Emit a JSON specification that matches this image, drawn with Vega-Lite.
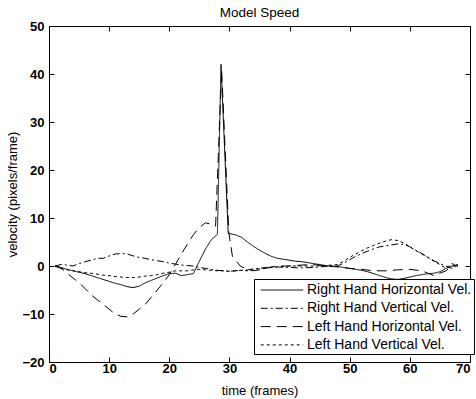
{
  "$schema": "https://vega.github.io/schema/vega-lite/v6.json",
  "width": 421,
  "height": 336,
  "autosize": "none",
  "padding": {"left": 49, "top": 26, "right": 6, "bottom": 37},
  "background": "white",
  "title": {"text": "Model Speed", "fontSize": 13.5, "font": "Liberation Sans", "fontWeight": "normal", "color": "black", "offset": 1},
  "config": {
    "view": {"stroke": "black", "strokeWidth": 1},
    "axis": {"labelFont": "Liberation Sans", "titleFont": "Liberation Sans", "labelColor": "black", "titleColor": "black", "domain": false, "grid": false, "tickColor": "black", "labelFontSize": 13, "labelFontWeight": "bold", "titleFontSize": 13, "titleFontWeight": "normal"}
  },
  "data": {"values": [
    {"f":1,"v":0,"s":"Right Hand Horizontal Vel."},{"f":2,"v":-0.3,"s":"Right Hand Horizontal Vel."},{"f":3,"v":-0.7,"s":"Right Hand Horizontal Vel."},{"f":4,"v":-1,"s":"Right Hand Horizontal Vel."},{"f":5,"v":-1.3,"s":"Right Hand Horizontal Vel."},{"f":6,"v":-1.6,"s":"Right Hand Horizontal Vel."},{"f":7,"v":-2,"s":"Right Hand Horizontal Vel."},{"f":8,"v":-2.4,"s":"Right Hand Horizontal Vel."},{"f":9,"v":-2.8,"s":"Right Hand Horizontal Vel."},{"f":10,"v":-3.2,"s":"Right Hand Horizontal Vel."},{"f":11,"v":-3.6,"s":"Right Hand Horizontal Vel."},{"f":12,"v":-3.9,"s":"Right Hand Horizontal Vel."},{"f":13,"v":-4.3,"s":"Right Hand Horizontal Vel."},{"f":14,"v":-4.5,"s":"Right Hand Horizontal Vel."},{"f":15,"v":-4.2,"s":"Right Hand Horizontal Vel."},{"f":16,"v":-3.5,"s":"Right Hand Horizontal Vel."},{"f":17,"v":-3,"s":"Right Hand Horizontal Vel."},{"f":18,"v":-2.5,"s":"Right Hand Horizontal Vel."},{"f":19,"v":-2,"s":"Right Hand Horizontal Vel."},{"f":20,"v":-1.6,"s":"Right Hand Horizontal Vel."},{"f":21,"v":-1.5,"s":"Right Hand Horizontal Vel."},{"f":22,"v":-2,"s":"Right Hand Horizontal Vel."},{"f":23,"v":-1.8,"s":"Right Hand Horizontal Vel."},{"f":24,"v":-1.6,"s":"Right Hand Horizontal Vel."},{"f":25,"v":1,"s":"Right Hand Horizontal Vel."},{"f":26,"v":3.5,"s":"Right Hand Horizontal Vel."},{"f":27,"v":5.5,"s":"Right Hand Horizontal Vel."},{"f":28,"v":6.6,"s":"Right Hand Horizontal Vel."},{"f":28.6,"v":42,"s":"Right Hand Horizontal Vel."},{"f":29.8,"v":6.8,"s":"Right Hand Horizontal Vel."},{"f":31,"v":6.5,"s":"Right Hand Horizontal Vel."},{"f":32,"v":6,"s":"Right Hand Horizontal Vel."},{"f":33,"v":5,"s":"Right Hand Horizontal Vel."},{"f":34,"v":4.1,"s":"Right Hand Horizontal Vel."},{"f":35,"v":3.3,"s":"Right Hand Horizontal Vel."},{"f":36,"v":2.6,"s":"Right Hand Horizontal Vel."},{"f":37,"v":2,"s":"Right Hand Horizontal Vel."},{"f":38,"v":1.6,"s":"Right Hand Horizontal Vel."},{"f":39,"v":1.4,"s":"Right Hand Horizontal Vel."},{"f":40,"v":1.2,"s":"Right Hand Horizontal Vel."},{"f":41,"v":1,"s":"Right Hand Horizontal Vel."},{"f":42,"v":0.9,"s":"Right Hand Horizontal Vel."},{"f":43,"v":0.7,"s":"Right Hand Horizontal Vel."},{"f":44,"v":0.5,"s":"Right Hand Horizontal Vel."},{"f":45,"v":0.3,"s":"Right Hand Horizontal Vel."},{"f":46,"v":0.1,"s":"Right Hand Horizontal Vel."},{"f":47,"v":0,"s":"Right Hand Horizontal Vel."},{"f":48,"v":-0.1,"s":"Right Hand Horizontal Vel."},{"f":49,"v":-0.3,"s":"Right Hand Horizontal Vel."},{"f":50,"v":-0.5,"s":"Right Hand Horizontal Vel."},{"f":51,"v":-0.7,"s":"Right Hand Horizontal Vel."},{"f":52,"v":-0.9,"s":"Right Hand Horizontal Vel."},{"f":53,"v":-1.2,"s":"Right Hand Horizontal Vel."},{"f":54,"v":-1.6,"s":"Right Hand Horizontal Vel."},{"f":55,"v":-2,"s":"Right Hand Horizontal Vel."},{"f":56,"v":-2.4,"s":"Right Hand Horizontal Vel."},{"f":57,"v":-2.7,"s":"Right Hand Horizontal Vel."},{"f":58,"v":-2.8,"s":"Right Hand Horizontal Vel."},{"f":59,"v":-2.6,"s":"Right Hand Horizontal Vel."},{"f":60,"v":-2.3,"s":"Right Hand Horizontal Vel."},{"f":61,"v":-2,"s":"Right Hand Horizontal Vel."},{"f":62,"v":-1.8,"s":"Right Hand Horizontal Vel."},{"f":63,"v":-1.6,"s":"Right Hand Horizontal Vel."},{"f":64,"v":-1.5,"s":"Right Hand Horizontal Vel."},{"f":65,"v":-1.2,"s":"Right Hand Horizontal Vel."},{"f":66,"v":-0.5,"s":"Right Hand Horizontal Vel."},{"f":67,"v":0,"s":"Right Hand Horizontal Vel."},{"f":68,"v":0,"s":"Right Hand Horizontal Vel."},

    {"f":1,"v":0,"s":"Right Hand Vertical Vel."},{"f":2,"v":0.3,"s":"Right Hand Vertical Vel."},{"f":3,"v":0.2,"s":"Right Hand Vertical Vel."},{"f":4,"v":0,"s":"Right Hand Vertical Vel."},{"f":5,"v":0.5,"s":"Right Hand Vertical Vel."},{"f":6,"v":0.9,"s":"Right Hand Vertical Vel."},{"f":7,"v":1.2,"s":"Right Hand Vertical Vel."},{"f":8,"v":1.6,"s":"Right Hand Vertical Vel."},{"f":9,"v":1.6,"s":"Right Hand Vertical Vel."},{"f":10,"v":2.1,"s":"Right Hand Vertical Vel."},{"f":11,"v":2.5,"s":"Right Hand Vertical Vel."},{"f":12,"v":2.6,"s":"Right Hand Vertical Vel."},{"f":13,"v":2.5,"s":"Right Hand Vertical Vel."},{"f":14,"v":2.1,"s":"Right Hand Vertical Vel."},{"f":15,"v":1.8,"s":"Right Hand Vertical Vel."},{"f":16,"v":1.6,"s":"Right Hand Vertical Vel."},{"f":17,"v":1.3,"s":"Right Hand Vertical Vel."},{"f":18,"v":1.1,"s":"Right Hand Vertical Vel."},{"f":19,"v":0.9,"s":"Right Hand Vertical Vel."},{"f":20,"v":0.6,"s":"Right Hand Vertical Vel."},{"f":21,"v":0.4,"s":"Right Hand Vertical Vel."},{"f":22,"v":0.2,"s":"Right Hand Vertical Vel."},{"f":23,"v":0.1,"s":"Right Hand Vertical Vel."},{"f":24,"v":0,"s":"Right Hand Vertical Vel."},{"f":25,"v":-0.3,"s":"Right Hand Vertical Vel."},{"f":26,"v":-0.5,"s":"Right Hand Vertical Vel."},{"f":27,"v":-0.7,"s":"Right Hand Vertical Vel."},{"f":28,"v":-0.9,"s":"Right Hand Vertical Vel."},{"f":29,"v":-1,"s":"Right Hand Vertical Vel."},{"f":30,"v":-1.1,"s":"Right Hand Vertical Vel."},{"f":31,"v":-1,"s":"Right Hand Vertical Vel."},{"f":32,"v":-0.9,"s":"Right Hand Vertical Vel."},{"f":33,"v":-0.8,"s":"Right Hand Vertical Vel."},{"f":34,"v":-0.6,"s":"Right Hand Vertical Vel."},{"f":35,"v":-0.5,"s":"Right Hand Vertical Vel."},{"f":36,"v":-0.3,"s":"Right Hand Vertical Vel."},{"f":38,"v":-0.2,"s":"Right Hand Vertical Vel."},{"f":40,"v":-0.3,"s":"Right Hand Vertical Vel."},{"f":42,"v":-0.4,"s":"Right Hand Vertical Vel."},{"f":44,"v":-0.3,"s":"Right Hand Vertical Vel."},{"f":46,"v":-0.1,"s":"Right Hand Vertical Vel."},{"f":48,"v":0,"s":"Right Hand Vertical Vel."},{"f":49,"v":0.6,"s":"Right Hand Vertical Vel."},{"f":50,"v":1.3,"s":"Right Hand Vertical Vel."},{"f":51,"v":2,"s":"Right Hand Vertical Vel."},{"f":52,"v":2.6,"s":"Right Hand Vertical Vel."},{"f":53,"v":3.1,"s":"Right Hand Vertical Vel."},{"f":54,"v":3.6,"s":"Right Hand Vertical Vel."},{"f":55,"v":4,"s":"Right Hand Vertical Vel."},{"f":56,"v":4.2,"s":"Right Hand Vertical Vel."},{"f":57,"v":4.4,"s":"Right Hand Vertical Vel."},{"f":58,"v":4.6,"s":"Right Hand Vertical Vel."},{"f":59,"v":4.5,"s":"Right Hand Vertical Vel."},{"f":60,"v":4,"s":"Right Hand Vertical Vel."},{"f":61,"v":3.3,"s":"Right Hand Vertical Vel."},{"f":62,"v":2.6,"s":"Right Hand Vertical Vel."},{"f":63,"v":1.8,"s":"Right Hand Vertical Vel."},{"f":64,"v":1.1,"s":"Right Hand Vertical Vel."},{"f":65,"v":0.5,"s":"Right Hand Vertical Vel."},{"f":66,"v":0,"s":"Right Hand Vertical Vel."},{"f":67,"v":-0.5,"s":"Right Hand Vertical Vel."},{"f":68,"v":0.3,"s":"Right Hand Vertical Vel."},

    {"f":1,"v":0,"s":"Left Hand Horizontal Vel."},{"f":2,"v":-0.5,"s":"Left Hand Horizontal Vel."},{"f":3,"v":-1.5,"s":"Left Hand Horizontal Vel."},{"f":4,"v":-2.5,"s":"Left Hand Horizontal Vel."},{"f":5,"v":-3.5,"s":"Left Hand Horizontal Vel."},{"f":6,"v":-4.7,"s":"Left Hand Horizontal Vel."},{"f":7,"v":-6,"s":"Left Hand Horizontal Vel."},{"f":8,"v":-7,"s":"Left Hand Horizontal Vel."},{"f":9,"v":-8,"s":"Left Hand Horizontal Vel."},{"f":10,"v":-9,"s":"Left Hand Horizontal Vel."},{"f":11,"v":-10,"s":"Left Hand Horizontal Vel."},{"f":12,"v":-10.5,"s":"Left Hand Horizontal Vel."},{"f":13,"v":-10.6,"s":"Left Hand Horizontal Vel."},{"f":14,"v":-10,"s":"Left Hand Horizontal Vel."},{"f":15,"v":-9,"s":"Left Hand Horizontal Vel."},{"f":16,"v":-8,"s":"Left Hand Horizontal Vel."},{"f":17,"v":-6.5,"s":"Left Hand Horizontal Vel."},{"f":18,"v":-5,"s":"Left Hand Horizontal Vel."},{"f":19,"v":-3.5,"s":"Left Hand Horizontal Vel."},{"f":20,"v":-1.8,"s":"Left Hand Horizontal Vel."},{"f":21,"v":0.3,"s":"Left Hand Horizontal Vel."},{"f":22,"v":2.5,"s":"Left Hand Horizontal Vel."},{"f":23,"v":4.5,"s":"Left Hand Horizontal Vel."},{"f":24,"v":6.5,"s":"Left Hand Horizontal Vel."},{"f":25,"v":8,"s":"Left Hand Horizontal Vel."},{"f":26,"v":9,"s":"Left Hand Horizontal Vel."},{"f":27,"v":8.7,"s":"Left Hand Horizontal Vel."},{"f":27.7,"v":8.3,"s":"Left Hand Horizontal Vel."},{"f":28.7,"v":41,"s":"Left Hand Horizontal Vel."},{"f":29.9,"v":7,"s":"Left Hand Horizontal Vel."},{"f":30.5,"v":2,"s":"Left Hand Horizontal Vel."},{"f":31.8,"v":0,"s":"Left Hand Horizontal Vel."},{"f":33,"v":-0.7,"s":"Left Hand Horizontal Vel."},{"f":34,"v":-1,"s":"Left Hand Horizontal Vel."},{"f":35,"v":-0.8,"s":"Left Hand Horizontal Vel."},{"f":36,"v":-0.5,"s":"Left Hand Horizontal Vel."},{"f":37,"v":-0.2,"s":"Left Hand Horizontal Vel."},{"f":38,"v":0,"s":"Left Hand Horizontal Vel."},{"f":40,"v":0,"s":"Left Hand Horizontal Vel."},{"f":42,"v":0.2,"s":"Left Hand Horizontal Vel."},{"f":44,"v":0.3,"s":"Left Hand Horizontal Vel."},{"f":46,"v":0,"s":"Left Hand Horizontal Vel."},{"f":48,"v":-0.2,"s":"Left Hand Horizontal Vel."},{"f":50,"v":-0.5,"s":"Left Hand Horizontal Vel."},{"f":52,"v":-0.7,"s":"Left Hand Horizontal Vel."},{"f":54,"v":-1,"s":"Left Hand Horizontal Vel."},{"f":56,"v":-1,"s":"Left Hand Horizontal Vel."},{"f":58,"v":-0.8,"s":"Left Hand Horizontal Vel."},{"f":60,"v":-0.7,"s":"Left Hand Horizontal Vel."},{"f":62,"v":-1,"s":"Left Hand Horizontal Vel."},{"f":63,"v":-1.5,"s":"Left Hand Horizontal Vel."},{"f":64,"v":-2,"s":"Left Hand Horizontal Vel."},{"f":65,"v":-1.5,"s":"Left Hand Horizontal Vel."},{"f":66,"v":-1,"s":"Left Hand Horizontal Vel."},{"f":67,"v":0,"s":"Left Hand Horizontal Vel."},{"f":68,"v":0.3,"s":"Left Hand Horizontal Vel."},

    {"f":1,"v":0,"s":"Left Hand Vertical Vel."},{"f":2,"v":-0.5,"s":"Left Hand Vertical Vel."},{"f":3,"v":-0.8,"s":"Left Hand Vertical Vel."},{"f":4,"v":-1,"s":"Left Hand Vertical Vel."},{"f":5,"v":-1.2,"s":"Left Hand Vertical Vel."},{"f":6,"v":-1.4,"s":"Left Hand Vertical Vel."},{"f":7,"v":-1.5,"s":"Left Hand Vertical Vel."},{"f":8,"v":-1.7,"s":"Left Hand Vertical Vel."},{"f":9,"v":-1.9,"s":"Left Hand Vertical Vel."},{"f":10,"v":-2,"s":"Left Hand Vertical Vel."},{"f":11,"v":-2.2,"s":"Left Hand Vertical Vel."},{"f":12,"v":-2.3,"s":"Left Hand Vertical Vel."},{"f":13,"v":-2.4,"s":"Left Hand Vertical Vel."},{"f":14,"v":-2.4,"s":"Left Hand Vertical Vel."},{"f":15,"v":-2.3,"s":"Left Hand Vertical Vel."},{"f":16,"v":-2.1,"s":"Left Hand Vertical Vel."},{"f":17,"v":-2,"s":"Left Hand Vertical Vel."},{"f":18,"v":-1.8,"s":"Left Hand Vertical Vel."},{"f":19,"v":-1.5,"s":"Left Hand Vertical Vel."},{"f":20,"v":-1.3,"s":"Left Hand Vertical Vel."},{"f":21,"v":-1,"s":"Left Hand Vertical Vel."},{"f":22,"v":-1,"s":"Left Hand Vertical Vel."},{"f":23,"v":-1,"s":"Left Hand Vertical Vel."},{"f":24,"v":-0.8,"s":"Left Hand Vertical Vel."},{"f":25,"v":-0.7,"s":"Left Hand Vertical Vel."},{"f":26,"v":-0.8,"s":"Left Hand Vertical Vel."},{"f":27,"v":-0.9,"s":"Left Hand Vertical Vel."},{"f":28,"v":-1,"s":"Left Hand Vertical Vel."},{"f":29,"v":-1,"s":"Left Hand Vertical Vel."},{"f":30,"v":-1.1,"s":"Left Hand Vertical Vel."},{"f":31,"v":-1,"s":"Left Hand Vertical Vel."},{"f":32,"v":-0.9,"s":"Left Hand Vertical Vel."},{"f":33,"v":-1,"s":"Left Hand Vertical Vel."},{"f":34,"v":-0.8,"s":"Left Hand Vertical Vel."},{"f":35,"v":-0.6,"s":"Left Hand Vertical Vel."},{"f":36,"v":-0.5,"s":"Left Hand Vertical Vel."},{"f":37,"v":-0.3,"s":"Left Hand Vertical Vel."},{"f":38,"v":-0.2,"s":"Left Hand Vertical Vel."},{"f":39,"v":-0.1,"s":"Left Hand Vertical Vel."},{"f":40,"v":0,"s":"Left Hand Vertical Vel."},{"f":42,"v":0,"s":"Left Hand Vertical Vel."},{"f":44,"v":0,"s":"Left Hand Vertical Vel."},{"f":46,"v":0.1,"s":"Left Hand Vertical Vel."},{"f":48,"v":0.3,"s":"Left Hand Vertical Vel."},{"f":49,"v":1,"s":"Left Hand Vertical Vel."},{"f":50,"v":1.8,"s":"Left Hand Vertical Vel."},{"f":51,"v":2.5,"s":"Left Hand Vertical Vel."},{"f":52,"v":3.2,"s":"Left Hand Vertical Vel."},{"f":53,"v":3.8,"s":"Left Hand Vertical Vel."},{"f":54,"v":4.3,"s":"Left Hand Vertical Vel."},{"f":55,"v":4.8,"s":"Left Hand Vertical Vel."},{"f":56,"v":5.2,"s":"Left Hand Vertical Vel."},{"f":57,"v":5.5,"s":"Left Hand Vertical Vel."},{"f":58,"v":5.3,"s":"Left Hand Vertical Vel."},{"f":59,"v":4.8,"s":"Left Hand Vertical Vel."},{"f":60,"v":4,"s":"Left Hand Vertical Vel."},{"f":61,"v":3.2,"s":"Left Hand Vertical Vel."},{"f":62,"v":2.5,"s":"Left Hand Vertical Vel."},{"f":63,"v":1.8,"s":"Left Hand Vertical Vel."},{"f":64,"v":1,"s":"Left Hand Vertical Vel."},{"f":65,"v":0.3,"s":"Left Hand Vertical Vel."},{"f":66,"v":-0.5,"s":"Left Hand Vertical Vel."},{"f":67,"v":0.5,"s":"Left Hand Vertical Vel."},{"f":68,"v":0,"s":"Left Hand Vertical Vel."}
  ]},
  "layer": [
    {
      "mark": {"type": "line", "color": "black", "strokeWidth": 1, "clip": true},
      "encoding": {
        "x": {"field": "f", "type": "quantitative", "scale": {"domain": [0, 70], "nice": false, "zero": false},
              "axis": {"title": "time (frames)", "values": [0,10,20,30,40,50,60,70], "tickSize": -5, "labelPadding": 5, "titlePadding": 9}},
        "y": {"field": "v", "type": "quantitative", "scale": {"domain": [-20, 50], "nice": false, "zero": false},
              "axis": {"title": "velocity (pixels/frame)", "values": [-20,-10,0,10,20,30,40,50], "tickSize": -5, "labelPadding": 10, "titlePadding": 2}},
        "strokeDash": {"field": "s", "type": "nominal",
          "scale": {"domain": ["Right Hand Horizontal Vel.", "Right Hand Vertical Vel.", "Left Hand Horizontal Vel.", "Left Hand Vertical Vel."],
                    "range": [[1, 0], [7, 3, 2, 3], [10, 6], [3, 3]]},
          "legend": {"title": null, "orient": "none", "legendX": 205, "legendY": 253, "fillColor": "white", "strokeColor": "black", "padding": 2,
                     "symbolType": "M-2.5,0H2.5", "symbolSize": 289, "symbolStrokeWidth": 1, "symbolStrokeColor": "black", "symbolOffset": 17, "labelOffset": 16,
                     "labelFont": "Liberation Sans", "labelFontSize": 14, "labelColor": "black", "labelLimit": 300, "rowPadding": 2.3}},
        "order": {"field": "f", "type": "quantitative"}
      }
    },
    {
      "mark": {"type": "point", "opacity": 0},
      "encoding": {
        "x": {"field": "f", "type": "quantitative", "axis": {"orient": "top", "title": null, "labels": false, "values": [0,10,20,30,40,50,60,70], "tickSize": -5}},
        "y": {"field": "v", "type": "quantitative", "axis": {"orient": "right", "title": null, "labels": false, "values": [-20,-10,0,10,20,30,40,50], "tickSize": -5}}
      }
    }
  ],
  "resolve": {"axis": {"x": "independent", "y": "independent"}}
}
